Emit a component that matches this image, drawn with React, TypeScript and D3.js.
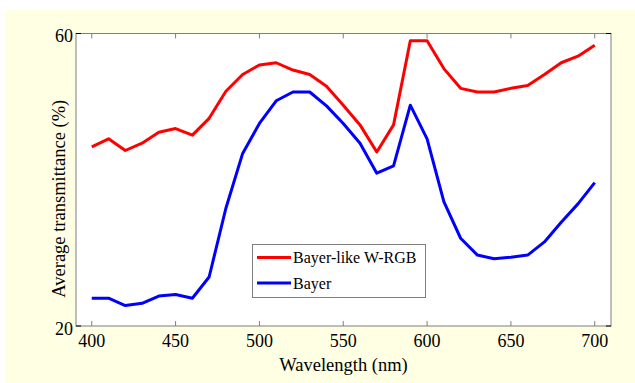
import React from "react";
import * as d3 from "d3";

const wavelengths = [400,410,420,430,440,450,460,470,480,490,500,510,520,530,540,550,560,570,580,590,600,610,620,630,640,650,660,670,680,690,700];
const wrgbValues = [44.5,45.6,44.0,45.0,46.5,47.0,46.1,48.4,52.1,54.4,55.7,56.0,55.0,54.4,52.8,50.2,47.5,43.8,47.5,59.0,59.0,55.2,52.5,52.0,52.0,52.5,52.9,54.4,56.0,56.9,58.4];
const bayerValues = [23.8,23.8,22.8,23.1,24.1,24.3,23.8,26.7,36.1,43.6,47.7,50.8,52.0,52.0,50.1,47.7,45.0,40.9,41.9,50.2,45.6,37.0,32.0,29.7,29.2,29.4,29.7,31.5,34.2,36.7,39.6];
const xTicks = [400, 450, 500, 550, 600, 650, 700];
const yTicks = [20, 60];
const seriesNames = ["Bayer-like W-RGB", "Bayer"];
const seriesColors = ["#ff0000", "#0000ff"];

export default function App() {
  const W = 635, H = 383;
  const L = 76, R = 611, T = 33.5, B = 326;
  const x = d3.scaleLinear().domain([390.6, 709.7]).range([L, R]);
  const y = d3.scaleLinear().domain([20, 60]).range([B, T]);
  const line = d3.line<[number, number]>().x(d => x(d[0])).y(d => y(d[1]));
  const series = [wrgbValues, bayerValues].map(vals => wavelengths.map((w, i) => [w, vals[i]] as [number, number]));
  const font = "'Liberation Serif', 'Times New Roman', serif";
  const axisColor = "#7f7f7f";
  return (
    <div style={{ position: "absolute", left: 0, top: 0 }}>
      <svg width={W} height={H} style={{ display: "block" }}>
        <rect x={5} y={10} width={W - 5} height={H - 10} fill="#ffffe3" />
        <rect x={L} y={T} width={R - L} height={B - T} fill="#ffffff" />
        {series.map((s, i) => (
          <path key={i} d={line(s) || ""} fill="none" stroke={seriesColors[i]} strokeWidth={3} strokeLinejoin="round" />
        ))}
        <rect x={L} y={T} width={R - L} height={B - T} fill="none" stroke={axisColor} strokeWidth={1} />
        {xTicks.map(t => (
          <g key={t}>
            <line x1={x(t)} x2={x(t)} y1={B} y2={B - 5} stroke={axisColor} />
            <line x1={x(t)} x2={x(t)} y1={T} y2={T + 5} stroke={axisColor} />
            <text x={x(t)} y={347} fontSize={18} fontFamily={font} textAnchor="middle" fill="#000">{t}</text>
          </g>
        ))}
        {yTicks.map(t => (
          <g key={t}>
            <line x1={L} x2={L + 5} y1={y(t)} y2={y(t)} stroke="#000" />
            <line x1={R} x2={R - 5} y1={y(t)} y2={y(t)} stroke="#000" />
            <text x={L - 3} y={y(t) + 8.5} fontSize={18} fontFamily={font} textAnchor="end" fill="#000">{t}</text>
          </g>
        ))}
        <text x={(L + R) / 2} y={371} fontSize={18.5} fontFamily={font} textAnchor="middle" fill="#000">Wavelength (nm)</text>
        <text transform={`translate(65,${(T + B) / 2 + 19}) rotate(-90)`} fontSize={18.5} fontFamily={font} textAnchor="middle" fill="#000">Average transmittance (%)</text>
        <rect x={252.5} y={244.5} width={173} height={53} fill="#ffffff" stroke={axisColor} strokeWidth={1} />
        {seriesNames.map((n, i) => (
          <g key={n}>
            <line x1={257} x2={291} y1={257.5 + i * 25.5} y2={257.5 + i * 25.5} stroke={seriesColors[i]} strokeWidth={3} />
            <text x={293} y={263 + i * 25.5} fontSize={16} fontFamily={font} fill="#000">{n}</text>
          </g>
        ))}
      </svg>
    </div>
  );
}
